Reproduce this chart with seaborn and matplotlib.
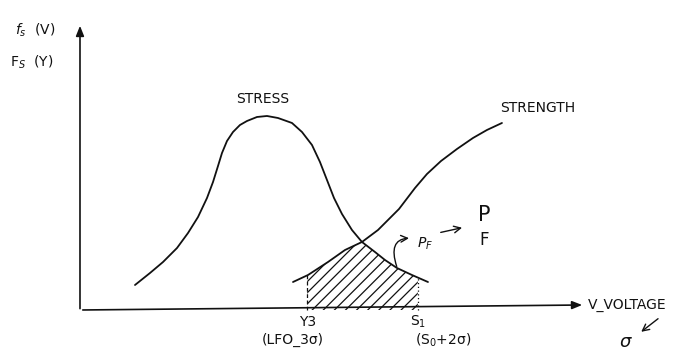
import numpy as np
import matplotlib
matplotlib.use("Agg")
import matplotlib.pyplot as plt
import seaborn as sns

sns.set_theme(style="white")
plt.rcParams["font.family"] = ["DejaVu Sans"]
plt.rcParams["mathtext.fontset"] = "dejavusans"
plt.rcParams["hatch.linewidth"] = 0.9

# Stress distribution f_s(V) (bell shaped)
stress_v = [10.89, 13.86, 16.44, 19.21, 21.39, 23.37, 25.15, 26.34, 27.33, 28.12,
            29.11, 30.30, 31.68, 33.07, 35.05, 37.03, 39.21, 41.98, 43.96, 45.94,
            47.52, 48.91, 50.30, 51.88, 53.86, 55.84, 58.42, 60.40, 62.77, 65.74, 68.91]
stress_f = [8.93, 13.21, 17.14, 22.14, 27.50, 33.21, 40.00, 45.71, 51.43, 56.07,
            60.36, 63.57, 66.07, 67.50, 68.93, 69.29, 68.57, 66.79, 63.57, 58.93,
            52.86, 46.43, 40.00, 34.29, 28.57, 24.29, 20.71, 17.86, 15.00, 12.50, 10.00]

# Strength curve F_S(V)
strength_v = [42.18, 45.15, 49.11, 52.48, 55.84, 59.01, 63.17, 66.34, 68.71,
              71.49, 74.65, 77.82, 80.59, 83.56]
strength_f = [10.00, 12.50, 17.14, 21.43, 24.29, 28.57, 36.07, 43.57, 48.57,
              53.21, 57.50, 61.43, 64.29, 66.79]

# Limits of the failure region
v3 = 45.0   # LFO - 3 sigma
s1 = 66.9   # S0 + 2 sigma

fig = plt.figure(figsize=(6.73, 3.51), dpi=100)
ax = fig.add_axes([0, 0, 1, 1])
ax.set_xlim(-15.84, 117.43)
ax.set_ylim(-14.64, 110.71)
ax.axis("off")

ink = "#111111"
sns.lineplot(x=stress_v, y=stress_f, ax=ax, color=ink, lw=1.3, sort=False, estimator=None)
sns.lineplot(x=strength_v, y=strength_f, ax=ax, color=ink, lw=1.3, sort=False, estimator=None)

# Hatched overlap region between V3 and S1
vv = np.linspace(v3, s1, 200)
upper = np.minimum(np.interp(vv, stress_v, stress_f), np.interp(vv, strength_v, strength_f))
ax.fill_between(vv, 0, upper, facecolor="none", edgecolor=ink, hatch="///", lw=0)
ax.plot([v3, v3], [0, upper[0]], color=ink, lw=0.9, ls=(0, (3, 2)))
ax.plot([s1, s1], [0, upper[-1]], color=ink, lw=0.9, ls=(0, (1, 2)))

# Axes drawn as arrows
arrow_kw = dict(arrowstyle="-|>,head_length=0.5,head_width=0.2", color=ink, lw=1.2)
ax.annotate("", xy=(0, 102.5), xytext=(0, -0.5), arrowprops=arrow_kw)
ax.annotate("", xy=(100.0, 1.8), xytext=(0, 0), arrowprops=arrow_kw)

fs = 10
ax.text(-12.9, 100.0, r"$f_s$  (V)", fontsize=fs, ha="left", va="center", color=ink)
ax.text(-13.9, 88.6, r"F$_S$  (Y)", fontsize=fs, ha="left", va="center", color=ink)
ax.text(36.2, 75.4, "STRESS", fontsize=fs, ha="center", va="center", color=ink)
ax.text(83.2, 72.0, "STRENGTH", fontsize=fs, ha="left", va="center", color=ink)
ax.text(100.6, 1.8, "V_VOLTAGE", fontsize=fs, ha="left", va="center", color=ink)

ax.text(v3, -4.3, "Y3", fontsize=fs, ha="center", va="center", color=ink)
ax.text(42.2, -10.7, "(LFO_3σ)", fontsize=fs, ha="center", va="center", color=ink)
ax.text(s1, -4.3, r"S$_1$", fontsize=fs, ha="center", va="center", color=ink)
ax.text(71.9, -10.7, r"(S$_0$+2σ)", fontsize=fs, ha="center", va="center", color=ink)

# Failure probability annotations
ax.text(68.3, 23.6, r"$P_F$", fontsize=10, ha="center", va="center", color=ink)
ax.annotate("", xy=(65.7, 25.7), xytext=(62.9, 14.6),
            arrowprops=dict(arrowstyle="->,head_length=0.4,head_width=0.2", color=ink, lw=1.0,
                            connectionstyle="angle3,angleA=110,angleB=0"))
ax.annotate("", xy=(76.2, 29.6), xytext=(70.9, 27.5),
            arrowprops=dict(arrowstyle="->,head_length=0.4,head_width=0.2", color=ink, lw=1.0))
ax.text(80.0, 33.9, "P", fontsize=15, ha="center", va="center", color=ink)
ax.text(80.0, 25.0, "F", fontsize=12, ha="center", va="center", color=ink)

ax.text(107.9, -11.4, "σ", fontsize=13, style="italic", ha="center", va="center", color=ink)
ax.annotate("", xy=(110.7, -8.4), xytext=(114.9, -2.5),
            arrowprops=dict(arrowstyle="->,head_length=0.4,head_width=0.2", color=ink, lw=1.0))

fig.savefig("out.png", dpi=100, facecolor="white")
